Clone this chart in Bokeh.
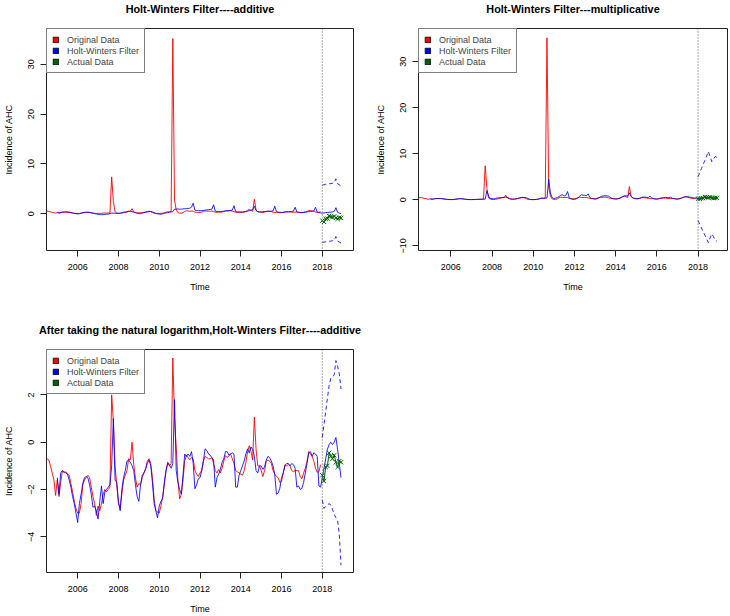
import numpy as np
from bokeh.plotting import figure
from bokeh.models import Range1d, FixedTicker, Span, Legend, LegendItem, Title
from bokeh.layouts import column, row
from bokeh.embed import file_html
from bokeh.resources import INLINE

# ---------------- data ----------------
# Original monthly series, natural log, Jun 2004 .. Dec 2017
orig_log = [
    -0.8, -0.7, -0.75, -1.0, -1.3, -1.6, -2.25,                              # 2004 Jun-Dec
    -1.6, -2.3, -1.7, -1.2, -1.3, -1.25, -1.35, -1.4, -1.75, -2.1, -2.5, -2.8,  # 2005
    -3.0, -3.0, -2.6, -1.8, -1.6, -1.5, -1.4, -1.5, -1.9, -2.3, -2.6, -3.1,     # 2006
    -2.7, -2.9, -2.6, -2.2, -2.0, -2.1, -2.0, -1.9, 2.0, 0.9, -1.0, -1.8,       # 2007
    -2.6, -2.8, -2.2, -1.6, -1.4, -1.2, -0.7, -0.75, 0.0, -0.95, -1.5, -1.9,    # 2008
    -1.75, -1.8, -1.5, -1.3, -1.1, -0.8, -0.7, -0.9, -1.5, -2.4, -2.9, -2.95,   # 2009
    -3.0, -2.7, -2.3, -1.8, -1.2, -0.9, -1.0, -0.9, 3.56, 1.0, -0.2, -1.6,      # 2010
    -2.4, -2.2, -1.6, -0.8, -0.55, -0.65, -0.75, -0.65, -0.7, -1.2, -1.35, -1.45,  # 2011
    -1.3, -1.2, -0.8, -0.6, -0.65, -0.7, -0.7, -0.65, -0.9, -1.2, -1.3, -1.15,  # 2012
    -1.3, -1.1, -0.8, -0.57, -0.65, -0.57, -0.5, -0.7, -0.9, -1.2, -1.25, -1.3, # 2013
    -1.35, -1.4, -1.2, -0.85, -0.4, -0.15, -0.4, -0.75, 1.06, -0.3, -1.0, -1.0, # 2014
    -1.2, -1.45, -1.2, -0.8, -0.75, -0.8, -0.9, -1.2, -1.35, -1.45, -1.5, -1.7, # 2015
    -1.65, -1.3, -0.95, -1.0, -0.95, -1.0, -1.2, -1.25, -1.2, -1.2, -1.2, -1.45,# 2016
    -1.55, -1.3, -1.1, -0.8, -0.4, -0.5, -0.6, -0.8, -1.1, -1.27, -1.25, -0.95, # 2017
]

# Holt-Winters fitted values, Jan 2005 .. Dec 2017
hw_add_fit = [
    0.3, 0.15, 0.25, 0.3, 0.35, 0.4, 0.35, 0.3, 0.25, 0.15, 0.05, 0.0,
    -0.05, 0.0, 0.1, 0.2, 0.25, 0.3, 0.3, 0.25, 0.2, 0.1, 0.0, -0.05,
    -0.15, -0.2, -0.2, -0.2, -0.15, -0.1, -0.1, 0.0, 0.1, 0.1, 0.1, 0.05,
    0.05, 0.1, 0.2, 0.3, 0.35, 0.4, 0.45, 0.5, 0.4, 0.3, 0.2, 0.1,
    0.0, 0.0, 0.1, 0.2, 0.3, 0.35, 0.4, 0.45, 0.35, 0.2, 0.05, -0.05,
    -0.1, -0.1, -0.05, 0.05, 0.15, 0.2, 0.3, 0.35, 0.4, 0.9, 0.9, 0.95,
    0.9, 0.9, 0.95, 1.0, 1.0, 1.05, 1.1, 1.3, 2.1, 0.7, 0.6, 0.6,
    0.6, 0.6, 0.65, 0.7, 0.75, 0.8, 0.85, 0.9, 1.8, 0.5, 0.45, 0.45,
    0.45, 0.45, 0.5, 0.55, 0.6, 0.65, 0.65, 0.7, 1.6, 0.4, 0.35, 0.35,
    0.35, 0.35, 0.4, 0.45, 0.5, 0.6, 0.7, 0.8, 1.5, 0.6, 0.4, 0.35,
    0.35, 0.4, 0.45, 0.45, 0.5, 0.5, 0.5, 0.55, 1.5, 0.4, 0.3, 0.3,
    0.25, 0.25, 0.3, 0.35, 0.35, 0.4, 0.45, 0.5, 1.3, 0.35, 0.25, 0.2,
    0.2, 0.25, 0.3, 0.35, 0.4, 0.45, 0.5, 0.55, 1.3, 0.3, 0.2, 0.15,
]
hw_mul_fit = [
    0.25, 0.15, 0.2, 0.25, 0.3, 0.3, 0.3, 0.25, 0.2, 0.15, 0.1, 0.08,
    0.06, 0.07, 0.1, 0.15, 0.2, 0.25, 0.25, 0.2, 0.15, 0.1, 0.07, 0.06,
    0.05, 0.06, 0.07, 0.06, 0.1, 0.12, 0.12, 0.13, 0.15, 2.0, 0.8, 0.3,
    0.25, 0.2, 0.3, 0.4, 0.45, 0.5, 0.5, 0.55, 0.6, 0.5, 0.35, 0.2,
    0.1, 0.15, 0.2, 0.3, 0.45, 0.5, 0.55, 0.5, 0.45, 0.3, 0.1, 0.07,
    0.05, 0.06, 0.1, 0.15, 0.25, 0.35, 0.3, 0.35, 0.4, 4.5, 1.5, 0.5,
    0.3, 0.35, 0.5, 0.7, 1.0, 1.1, 0.8, 1.0, 1.8, 0.4, 0.2, 0.1,
    0.1, 0.2, 0.4, 0.8, 1.1, 1.0, 1.0, 0.9, 1.3, 0.5, 0.3, 0.2,
    0.15, 0.2, 0.4, 0.6, 0.8, 0.85, 0.9, 0.85, 0.8, 0.5, 0.3, 0.2,
    0.15, 0.2, 0.3, 0.5, 0.7, 0.8, 0.9, 0.8, 1.5, 0.8, 0.4, 0.25,
    0.2, 0.25, 0.35, 0.5, 0.6, 0.6, 0.55, 0.5, 0.8, 0.4, 0.3, 0.2,
    0.15, 0.2, 0.3, 0.4, 0.5, 0.55, 0.5, 0.45, 0.6, 0.35, 0.25, 0.15,
    0.15, 0.2, 0.35, 0.5, 0.6, 0.7, 0.7, 0.6, 0.55, 0.45, 0.4, 0.35,
]
hw_log_fit = [
    -1.5, -2.2, -1.3, -1.2, -1.25, -1.3, -1.35, -1.6, -1.9, -2.3, -2.6, -3.0,
    -3.4, -2.6, -2.2, -1.75, -1.5, -1.45, -1.5, -1.8, -2.2, -2.75, -2.7, -2.9,
    -3.25, -2.5, -1.85, -2.6, -2.1, -2.0, -1.9, -1.8, -1.0, 1.0, -1.6, -1.7,
    -2.5, -2.9, -2.0, -1.5, -1.2, -0.8, -0.75, -0.85, -1.0, -1.2, -1.8, -2.3,
    -2.5, -1.8, -1.4, -1.3, -1.15, -0.9, -0.75, -1.0, -1.7, -2.6, -2.9, -3.2,
    -2.7, -2.5, -2.4, -1.7, -1.2, -0.85, -0.95, -1.1, -0.9, 1.8, -1.2, -1.7,
    -2.0, -2.2, -1.4, -0.5, -0.6, -0.5, -0.6, -0.4, -0.9, -1.97, -1.8, -1.55,
    -1.5, -1.2, -0.8, -0.28, -0.35, -0.5, -0.55, -0.65, -0.75, -1.9, -1.5, -1.35,
    -1.15, -0.85, -0.7, -0.4, -0.4, -0.55, -0.5, -0.45, -0.5, -1.9, -1.9, -1.4,
    -1.2, -1.0, -0.8, -0.5, -0.28, -0.45, -0.2, -0.3, -0.6, -1.2, -1.3, -1.0,
    -1.0, -1.15, -1.05, -0.75, -0.6, -0.65, -0.8, -1.0, -1.35, -2.2, -2.15, -1.95,
    -1.5, -1.3, -1.0, -0.9, -0.9, -1.0, -0.9, -0.95, -1.1, -1.9, -1.85, -2.0,
    -1.95, -1.7, -1.3, -0.9, -0.45, -0.4, -0.6, -0.45, -0.5, -0.6, -1.85, -1.9,
]

# 2018 forecasts (Jan..Dec) and bounds
add_mean = [0.1, 0.15, 0.2, 0.25, 0.3, 0.3, 0.35, 0.45, 1.2, 0.25, 0.1, 0.0]
add_upper = [5.7, 5.8, 5.9, 5.95, 6.0, 6.05, 6.1, 6.2, 7.0, 6.0, 5.8, 5.6]
add_lower = [-5.8, -5.7, -5.65, -5.6, -5.55, -5.5, -5.45, -5.35, -4.6, -5.5, -5.7, -5.9]
mul_mean = [0.25, 0.3, 0.35, 0.4, 0.5, 0.5, 0.55, 0.6, 0.45, 0.4, 0.3, 0.25]
mul_upper = [5.0, 5.9, 6.8, 7.7, 8.6, 9.5, 10.5, 9.4, 8.3, 8.9, 9.4, 9.2]
mul_lower = [-4.5, -5.3, -6.1, -6.9, -7.7, -8.5, -9.3, -8.3, -7.4, -8.0, -8.8, -9.0]
log_mean = [-1.5, -1.1, -0.7, -0.3, -0.1, 0.0, -0.1, 0.0, 0.2, -0.3, -0.9, -1.5]
log_upper = [0.2, 0.75, 1.3, 1.85, 2.4, 2.7, 2.75, 2.85, 3.45, 3.2, 2.9, 2.25]
log_lower = [-2.45, -2.8, -2.7, -2.65, -2.6, -2.65, -2.85, -3.05, -3.2, -3.3, -3.9, -5.2]
# Actual 2018 data (natural log)
actual_log = [-1.4, -1.65, -1.05, -1.0, -0.45, -0.6, -0.7, -0.55, -0.85, -1.05, -0.8, -0.85]

year_ticks = [2006, 2008, 2010, 2012, 2014, 2016, 2018]
titles = ["Holt-Winters Filter----additive",
          "Holt-Winters Filter---multiplicative",
          "After taking the natural logarithm,Holt-Winters Filter----additive"]
legend_labels = ["Original Data", "Holt-Winters Filter", "Actual Data"]

# ---------------- helpers ----------------
FONT = "Liberation Sans"
RED, BLUE, GREEN = "#FF0000", "#0000FF", "#006400"
NAN = float("nan")


def month_times(year, month, n):
    return [year + (month - 1 + i) / 12.0 for i in range(n)]


t_orig = month_times(2004, 6, len(orig_log))
t_fit = month_times(2005, 1, len(hw_log_fit))
t_fc = month_times(2018, 1, 12)


def make_panel(title, xr, yr, yticks, width, height, borders,
               orig, fit, mean, upper, lower, actual):
    bl, br, bt, bb = borders
    p = figure(width=width, height=height, x_range=Range1d(*xr), y_range=Range1d(*yr),
               output_backend="svg", toolbar_location=None,
               min_border_left=bl, min_border_right=br,
               min_border_top=bt, min_border_bottom=bb)
    p.grid.visible = False
    p.outline_line_color = "#222222"
    p.outline_line_width = 1
    p.background_fill_color = "white"
    p.border_fill_color = "white"

    # spacer (closest to the frame) then the real title above it
    p.add_layout(Title(text=" ", text_font_size="2px", standoff=10), "above")
    p.add_layout(Title(text=title, align="center", text_font=FONT,
                       text_font_size="10.8px", text_font_style="bold",
                       text_color="black", standoff=0), "above")

    for ax in (p.xaxis[0], p.yaxis[0]):
        ax.axis_line_color = None
        ax.minor_tick_line_color = None
        ax.major_tick_in = 0
        ax.major_tick_out = 6
        ax.major_tick_line_color = "#222222"
        ax.major_label_text_font = FONT
        ax.major_label_text_font_size = "9px"
        ax.major_label_text_color = "black"
        ax.axis_label_text_font = FONT
        ax.axis_label_text_font_size = "9px"
        ax.axis_label_text_font_style = "normal"
        ax.axis_label_text_color = "black"

    p.xaxis.ticker = FixedTicker(ticks=year_ticks)
    p.xaxis.axis_label = "Time"
    p.xaxis.major_label_standoff = 7
    p.xaxis.axis_label_standoff = 9
    p.yaxis.ticker = FixedTicker(ticks=yticks)
    p.yaxis.axis_label = "Incidence of AHC"
    p.yaxis.major_label_orientation = "parallel"
    p.yaxis.major_label_standoff = 6
    p.yaxis.axis_label_standoff = 12

    p.add_layout(Span(location=2018, dimension="height", line_color="#555555",
                      line_dash="1 2", line_width=1))

    p.line(t_orig, orig, line_color=RED, line_width=1, line_alpha=0.9)
    p.line(t_fit + t_fc, list(fit) + list(mean), line_color=BLUE, line_width=1, line_alpha=0.85)
    p.line(t_fc, upper, line_color=BLUE, line_width=1, line_alpha=0.85, line_dash="4 3")
    p.line(t_fc, lower, line_color=BLUE, line_width=1, line_alpha=0.85, line_dash="4 3")
    p.line(t_fc, actual, line_color=GREEN, line_width=1)
    p.scatter(t_fc, actual, marker="x", size=6, line_color=GREEN, line_width=1)

    items = []
    for lab, col in zip(legend_labels, (RED, BLUE, GREEN)):
        r = p.quad(left=[NAN], right=[NAN], top=[NAN], bottom=[NAN], fill_color=col,
                   line_color="black", line_width=0.8)
        items.append(LegendItem(label=lab, renderers=[r]))
    leg = Legend(items=items, location="top_left", margin=0, padding=5, spacing=0,
                 label_text_font=FONT, label_text_font_size="9px",
                 label_height=11, label_standoff=8,
                 glyph_width=7, glyph_height=7,
                 border_line_color="black", border_line_width=1,
                 background_fill_color="white", background_fill_alpha=1.0)
    p.add_layout(leg)
    return p


orig_raw = list(np.exp(np.array(orig_log)))
actual_raw = list(np.exp(np.array(actual_log)))

p1 = make_panel(titles[0], (2004.47, 2019.53), (-7.4, 37.2), [0, 10, 20, 30],
                365, 300, (43, 12, 27, 50),
                orig_raw, hw_add_fit, add_mean, add_upper, add_lower, actual_log)
p2 = make_panel(titles[1], (2004.43, 2019.43), (-11.0, 37.2), [-10, 0, 10, 20, 30],
                365, 300, (53, 3, 27, 50),
                orig_raw, hw_mul_fit, mul_mean, mul_upper, mul_lower, actual_raw)
p3 = make_panel(titles[2], (2004.47, 2019.53), (-5.51, 3.92), [-4, -2, 0, 2],
                365, 316, (43, 12, 49, 44),
                orig_log, hw_log_fit, log_mean, log_upper, log_lower, actual_log)

layout = column(row(p1, p2, spacing=0), p3, spacing=0)
open("out.html", "w").write(file_html(layout, INLINE))
